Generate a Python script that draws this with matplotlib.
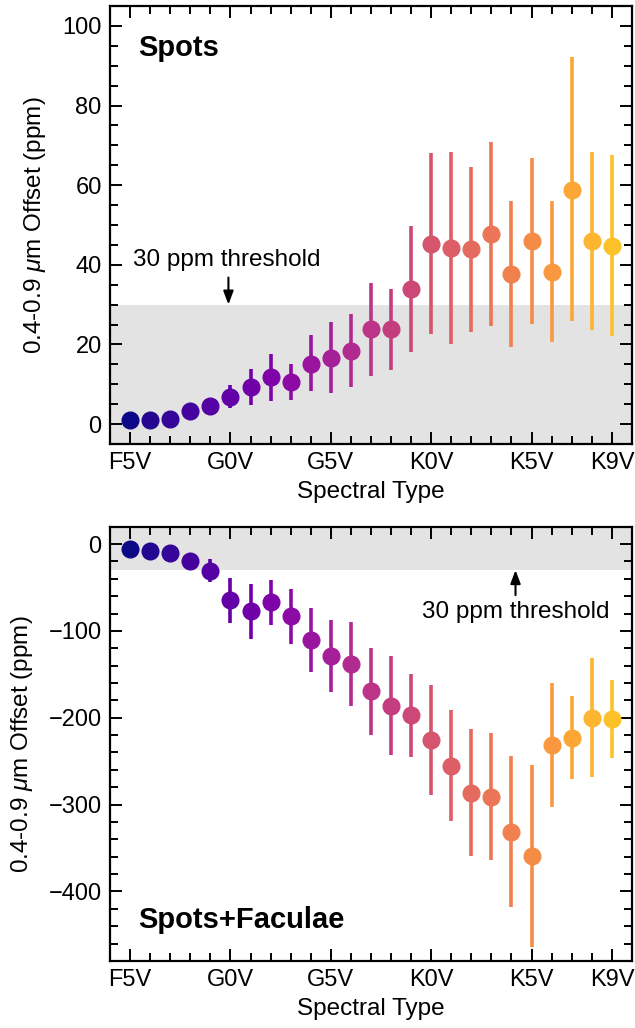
import numpy as np
import matplotlib
matplotlib.use("Agg")
import matplotlib.pyplot as plt
from matplotlib.ticker import MultipleLocator

plt.rcParams['font.family'] = ['Liberation Sans', 'DejaVu Sans']
plt.rcParams['mathtext.fontset'] = 'custom'
plt.rcParams['mathtext.rm'] = 'Liberation Sans'
plt.rcParams['mathtext.it'] = 'Liberation Sans:italic'

# spectral types F5V..K9V (25 subtypes)
tick_pos = [0, 5, 10, 15, 20, 24]
tick_labels = ['F5V', 'G0V', 'G5V', 'K0V', 'K5V', 'K9V']

# spots only: offset and error bar limits (ppm)
spots = [1.0, 1.0, 1.4, 3.3, 4.6, 6.9, 9.4, 11.8, 10.6, 15.2, 16.7, 18.4, 23.8,
         23.8, 34.0, 45.3, 44.1, 43.9, 47.7, 37.6, 45.9, 38.1, 58.9, 45.9, 44.7]
spots_lo = [1.0, 1.0, 1.4, 3.3, 4.6, 4.0, 4.8, 5.8, 6.0, 8.3, 7.7, 9.2, 12.1,
            13.7, 18.0, 22.6, 20.1, 23.2, 24.7, 19.4, 25.1, 20.5, 25.9, 23.6, 22.2]
spots_hi = [1.0, 1.0, 1.4, 3.3, 4.6, 9.8, 13.8, 17.7, 15.1, 22.3, 25.7, 27.6, 35.5,
            33.8, 49.8, 68.0, 68.3, 64.5, 70.8, 55.9, 66.7, 55.9, 92.1, 68.3, 67.5]

# spots + faculae
fac = [-5.8, -7.7, -10.0, -19.6, -30.8, -64.6, -77.3, -67.3, -83.0, -110.4, -128.8,
       -137.7, -169.6, -186.1, -197.3, -225.4, -255.0, -286.5, -290.8, -331.2,
       -358.8, -231.5, -223.1, -200.0, -201.2]
fac_lo = [-5.8, -7.7, -10.0, -19.6, -43.5, -91.5, -108.8, -93.8, -115.4, -147.3,
          -170.8, -186.5, -220.4, -243.1, -245.4, -288.8, -319.2, -359.6, -363.8,
          -417.3, -463.5, -303.1, -270.4, -268.5, -246.1]
fac_hi = [-5.8, -7.7, -10.0, -19.6, -17.7, -38.8, -46.5, -41.9, -51.5, -74.2,
          -87.7, -89.6, -119.6, -129.2, -149.2, -161.9, -191.5, -213.1, -218.1,
          -244.6, -254.2, -159.6, -175.4, -131.5, -156.6]

x = np.arange(len(spots))
colors = plt.cm.plasma(np.linspace(0, 0.87, len(x)))

fig = plt.figure(figsize=(6.35, 10.28), dpi=100)
ax1 = fig.add_axes([0.1732, 0.5681, 0.822, 0.4261])
ax2 = fig.add_axes([0.1732, 0.0652, 0.822, 0.4225])

arrow = dict(arrowstyle='-|>,head_width=0.3,head_length=0.8',
             color='black', lw=1.5, shrinkA=2, shrinkB=0)


def draw(ax, vals, lo, hi):
    for i in x:
        ax.errorbar(x[i], vals[i], yerr=[[vals[i] - lo[i]], [hi[i] - vals[i]]],
                    fmt='o', color=colors[i], ms=12, elinewidth=2.6, capsize=0,
                    zorder=3)
    ax.set_xlim(-1, 25)
    ax.set_xticks(tick_pos)
    ax.set_xticklabels(tick_labels)
    ax.xaxis.set_minor_locator(MultipleLocator(1))
    ax.tick_params(which='both', direction='in', top=True, right=True,
                   labelsize=17, width=1.4)
    ax.tick_params(which='major', length=8.5, pad=6)
    ax.tick_params(which='minor', length=5.5)
    for s in ax.spines.values():
        s.set_linewidth(1.6)
    ax.set_xlabel('Spectral Type', fontsize=17.5, labelpad=5)
    ax.set_ylabel(r'0.4-0.9 $\mu$m Offset (ppm)', fontsize=17.5, labelpad=10)


draw(ax1, spots, spots_lo, spots_hi)
ax1.set_ylim(-5, 105)
ax1.yaxis.set_major_locator(MultipleLocator(20))
ax1.yaxis.set_minor_locator(MultipleLocator(5))
ax1.axhspan(-5, 30, color='#e3e3e3', lw=0, zorder=0)
ax1.text(0.4, 94.4, 'Spots', fontsize=21, fontweight='bold', va='center')
ax1.annotate('', xy=(4.9, 30), xytext=(4.9, 37.5), arrowprops=arrow)
ax1.text(4.8, 38.5, '30 ppm threshold', fontsize=17.5, ha='center', va='bottom')

draw(ax2, fac, fac_lo, fac_hi)
ax2.set_ylim(-480, 20)
ax2.yaxis.set_major_locator(MultipleLocator(100))
ax2.yaxis.set_minor_locator(MultipleLocator(20))
ax2.axhspan(-30, 20, color='#e3e3e3', lw=0, zorder=0)
ax2.text(0.4, -433, 'Spots+Faculae', fontsize=21, fontweight='bold', va='center')
ax2.annotate('', xy=(19.2, -30), xytext=(19.2, -62), arrowprops=arrow)
ax2.text(19.2, -66, '30 ppm threshold', fontsize=17.5, ha='center', va='top')

fig.savefig('out.png', dpi=100)
